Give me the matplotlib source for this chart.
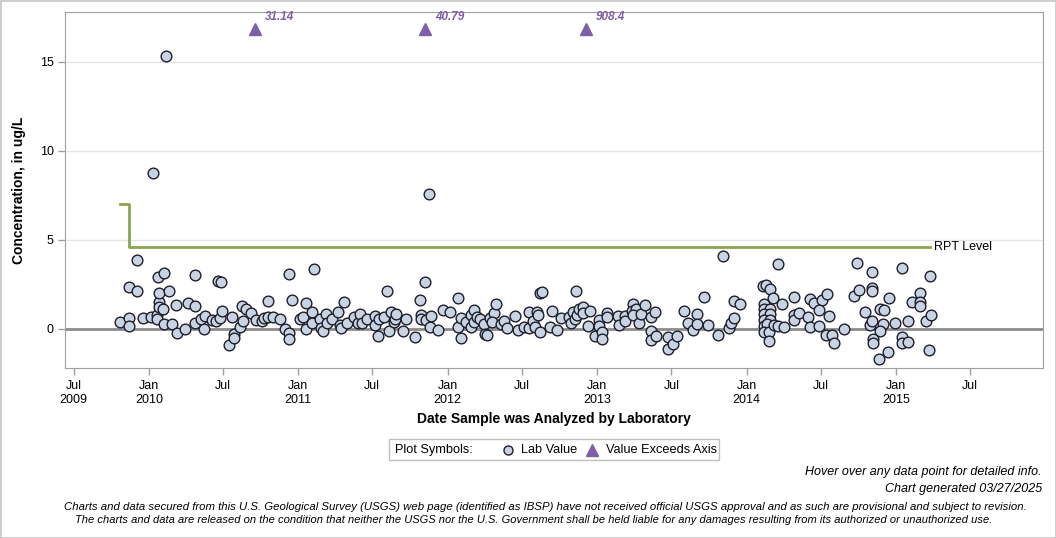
import numpy as np
import pandas as pd
import matplotlib
matplotlib.use("Agg")
import matplotlib.pyplot as plt
from matplotlib.lines import Line2D
from matplotlib.patches import Rectangle

plt.rcParams['font.family'] = ['Liberation Sans', 'DejaVu Sans']

# sample dates as decimal years
sample_year = [
    2009.809, 2009.869, 2009.869, 2009.869, 2009.921, 2009.923, 2009.963, 2010.015, 2010.030, 2010.057,
    2010.057, 2010.060, 2010.066, 2010.066, 2010.070, 2010.097, 2010.100, 2010.104, 2010.117, 2010.137,
    2010.157, 2010.184, 2010.191, 2010.244, 2010.262, 2010.309, 2010.309, 2010.311, 2010.349, 2010.371,
    2010.378, 2010.423, 2010.452, 2010.461, 2010.477, 2010.481, 2010.492, 2010.539, 2010.559, 2010.570,
    2010.570, 2010.610, 2010.624, 2010.633, 2010.651, 2010.684, 2010.718, 2010.758, 2010.771, 2010.800,
    2010.800, 2010.833, 2010.878, 2010.914, 2010.940, 2010.940, 2010.940, 2010.960, 2011.012, 2011.034,
    2011.052, 2011.052, 2011.094, 2011.094, 2011.108, 2011.146, 2011.151, 2011.168, 2011.184, 2011.191,
    2011.228, 2011.268, 2011.280, 2011.286, 2011.309, 2011.325, 2011.375, 2011.398, 2011.414, 2011.425,
    2011.462, 2011.514, 2011.514, 2011.536, 2011.543, 2011.574, 2011.592, 2011.610, 2011.621, 2011.641,
    2011.651, 2011.655, 2011.703, 2011.723, 2011.784, 2011.817, 2011.824, 2011.822, 2011.851, 2011.852,
    2011.875, 2011.879, 2011.891, 2011.938, 2011.971, 2012.016, 2012.072, 2012.072, 2012.090, 2012.091,
    2012.123, 2012.155, 2012.153, 2012.173, 2012.173, 2012.197, 2012.219, 2012.240, 2012.247, 2012.260,
    2012.284, 2012.312, 2012.325, 2012.299, 2012.357, 2012.377, 2012.399, 2012.453, 2012.473, 2012.513,
    2012.541, 2012.546, 2012.571, 2012.585, 2012.600, 2012.602, 2012.615, 2012.618, 2012.630, 2012.681,
    2012.700, 2012.729, 2012.754, 2012.812, 2012.823, 2012.834, 2012.854, 2012.849, 2012.866, 2012.879,
    2012.906, 2012.906, 2012.954, 2012.935, 2012.986, 2013.009, 2013.010, 2013.028, 2013.028, 2013.062,
    2013.063, 2013.138, 2013.144, 2013.183, 2013.183, 2013.236, 2013.231, 2013.256, 2013.236, 2013.278,
    2013.291, 2013.316, 2013.359, 2013.358, 2013.358, 2013.389, 2013.390, 2013.470, 2013.470, 2013.503,
    2013.530, 2013.578, 2013.606, 2013.638, 2013.665, 2013.664, 2013.716, 2013.738, 2013.810, 2013.843,
    2013.878, 2013.893, 2013.912, 2013.912, 2013.952, 2014.109, 2014.129, 2014.153, 2014.211, 2014.178,
    2014.235, 2014.114, 2014.114, 2014.153, 2014.114, 2014.153, 2014.114, 2014.155, 2014.114, 2014.138,
    2014.114, 2014.151, 2014.151, 2014.181, 2014.211, 2014.247, 2014.314, 2014.314, 2014.314, 2014.347,
    2014.407, 2014.426, 2014.449, 2014.426, 2014.487, 2014.501, 2014.486, 2014.539, 2014.554, 2014.531,
    2014.571, 2014.581, 2014.654, 2014.735, 2014.715, 2014.749, 2014.789, 2014.822, 2014.840, 2014.842,
    2014.842, 2014.842, 2014.891, 2014.922, 2014.913, 2014.891, 2014.950, 2014.848, 2014.848, 2014.884,
    2014.944, 2014.996, 2015.041, 2015.042, 2015.042, 2015.077, 2015.077, 2015.108, 2015.157, 2015.157,
    2015.157, 2015.197, 2015.234, 2015.230, 2015.222,
]

# lab values, ug/L
lab_value = [
    0.38, 2.36, 0.63, 0.17, 3.86, 2.13, 0.63, 0.69, 8.75, 0.80,
    0.58, 2.90, 1.50, 1.25, 2.01, 1.12, 0.28, 3.13, 15.32, 2.13,
    0.28, 1.33, -0.24, 0.00, 1.44, 3.03, 1.29, 0.32, 0.54, 0.00,
    0.73, 0.49, 0.43, 2.71, 0.62, 2.64, 1.01, -0.90, 0.66, -0.28,
    -0.52, 0.10, 1.29, 0.43, 1.11, 0.88, 0.49, 0.43, 0.60, 1.57,
    0.66, 0.69, 0.54, 0.00, 3.09, -0.24, -0.56, 1.63, 0.54, 0.69,
    1.44, 0.00, 0.96, 0.32, 3.37, 0.54, 0.07, -0.10, 0.84, 0.35,
    0.56, 0.96, 0.25, 0.04, 1.50, 0.35, 0.69, 0.32, 0.83, 0.35,
    0.56, 0.73, 0.21, -0.39, 0.56, 0.69, 2.13, -0.11, 0.94, 0.39,
    0.56, 0.83, -0.14, 0.54, -0.43, 1.62, 0.80, 0.54, 2.63, 0.51,
    7.57, 0.10, 0.71, -0.07, 1.07, 0.94, 1.72, 0.10, 0.61, -0.51,
    0.38, 0.12, 0.80, 1.07, 0.38, 0.66, 0.54, 0.26, -0.28, -0.34,
    0.61, 0.88, 1.39, 0.38, 0.30, 0.46, 0.06, 0.72, -0.07, 0.13,
    0.06, 0.94, 0.44, 0.11, 0.98, 0.80, -0.18, 2.01, 2.08, 0.11,
    1.01, -0.06, 0.61, 0.66, 0.31, 0.93, 2.13, 0.54, 0.78, 1.13,
    1.21, 0.92, 1.01, 0.17, -0.39, 0.51, 0.15, -0.19, -0.56, 0.92,
    0.66, 0.71, 0.20, 0.71, 0.45, 1.40, 1.01, 1.12, 0.76, 0.34,
    0.83, 1.34, 0.66, -0.11, -0.63, 0.94, -0.40, -0.47, -1.13, -0.86,
    -0.39, 1.02, 0.33, -0.07, 0.83, 0.28, 1.78, 0.21, -0.34, 4.10,
    0.07, 0.34, 0.61, 1.59, 1.39, 2.42, 2.47, 2.23, 3.65, 1.72,
    1.39, 1.42, 1.12, 1.11, 0.84, 0.84, 0.53, 0.53, 0.17, 0.28,
    -0.15, -0.15, -0.65, 0.25, 0.15, 0.10, 1.79, 0.80, 0.52, 0.91,
    0.66, 1.67, 1.46, 0.10, 0.16, 1.64, 1.08, 1.96, 0.73, -0.35,
    -0.35, -0.77, -0.02, 3.70, 1.85, 2.19, 0.96, 0.20, 0.44, 2.29,
    2.15, 3.20, 1.12, 1.08, 0.28, -0.12, 1.73, -0.55, -0.79, -1.70,
    -1.29, 0.34, 3.41, -0.44, -0.79, -0.73, 0.45, 1.51, 2.01, 1.51,
    1.29, 0.45, 0.79, 2.97, -1.20,
]

# values above the axis, shown as triangles at the top
exceed_year = [2010.711, 2011.849, 2012.924]
exceed_value = [31.14, 40.79, 908.4]

# reporting level (step line)
rpt_year = [2009.807, 2009.867, 2015.229]
rpt_value = [7.0, 4.6, 4.6]

x_ticks = ['2009-07-01', '2010-01-01', '2010-07-01', '2011-01-01', '2011-07-01',
           '2012-01-01', '2012-07-01', '2013-01-01', '2013-07-01', '2014-01-01',
           '2014-07-01', '2015-01-01', '2015-07-01']
x_tick_labels = ['Jul\n2009', 'Jan\n2010', 'Jul', 'Jan\n2011', 'Jul', 'Jan\n2012', 'Jul',
                 'Jan\n2013', 'Jul', 'Jan\n2014', 'Jul', 'Jan\n2015', 'Jul']


def to_dates(years):
    out = []
    for y in years:
        yr = int(np.floor(y))
        start = pd.Timestamp(year=yr, month=1, day=1)
        end = pd.Timestamp(year=yr + 1, month=1, day=1)
        out.append(start + (end - start) * (y - yr))
    return out


W, H = 1056, 538
fx = lambda px: px / W
fy = lambda py: 1 - py / H

fig = plt.figure(figsize=(W / 100, H / 100), dpi=100)
ax = fig.add_axes([fx(65), fy(368.3), (1043 - 65) / W, (368.3 - 12.3) / H])

ax.set_ylim(-2.21, 17.79)
ax.set_xlim(pd.Timestamp('2009-06-10'), pd.Timestamp('2015-12-26'))

ax.set_yticks([0, 5, 10, 15])
ax.yaxis.grid(True, color='#e6e6e6', lw=1)
ax.set_axisbelow(True)
ax.axhline(0, color='#8c8c8c', lw=2, zorder=1)

# RPT level
rd = to_dates(rpt_year)
ax.plot(rd, rpt_value, drawstyle='steps-post', color='#8aa64e', lw=2, zorder=2)
ax.text(rd[-1] + pd.Timedelta(days=10), rpt_value[-1], 'RPT Level',
        fontsize=9, va='center', ha='left')

# lab values
ax.plot(to_dates(sample_year), lab_value, 'o', ms=7.7, mfc='#c8d3e3',
        mec='#1e1e2a', mew=1.0, zorder=3, linestyle='none')

# exceedances
ed = to_dates(exceed_year)
ax.plot(ed, [16.85] * len(ed), '^', ms=8.5, color='#7f5fa8', zorder=4, linestyle='none')
for d, v in zip(ed, exceed_value):
    ax.annotate(f'{v:g}', (d, 16.85), xytext=(7, 9), textcoords='offset points',
                fontsize=8.5, fontweight='bold', fontstyle='italic', color='#7f5fa8',
                va='center', ha='left')

ax.set_xticks(pd.to_datetime(x_ticks))
ax.set_xticklabels(x_tick_labels, fontsize=9)
ax.tick_params(axis='both', direction='out', length=5, color='#a0a0a0', width=1, labelsize=9)
ax.tick_params(axis='y', pad=3)
for s in ax.spines.values():
    s.set_color('#a0a0a0')

ax.set_ylabel('Concentration, in ug/L', fontsize=10, fontweight='bold', labelpad=10)
fig.text(fx(554), fy(419), 'Date Sample was Analyzed by Laboratory', fontsize=10,
         fontweight='bold', ha='center', va='center')

# legend box
fig.patches.append(Rectangle((fx(389), fy(460)), (719 - 389) / W, 21 / H,
                             transform=fig.transFigure, fill=False,
                             edgecolor='#c0c0c0', lw=1))
fig.text(fx(395), fy(450), 'Plot Symbols:', fontsize=9.2, va='center', ha='left')
fig.add_artist(Line2D([fx(508)], [fy(450)], transform=fig.transFigure, marker='o',
                      ms=6.5, mfc='#c8d3e3', mec='#1e1e2a', mew=1.0, linestyle='none'))
fig.text(fx(521), fy(450), 'Lab Value', fontsize=9.2, va='center', ha='left')
fig.add_artist(Line2D([fx(592)], [fy(450)], transform=fig.transFigure, marker='^',
                      ms=8, color='#7f5fa8', linestyle='none'))
fig.text(fx(606), fy(450), 'Value Exceeds Axis', fontsize=9.2, va='center', ha='left')

# footer
fig.text(fx(1042), fy(472), 'Hover over any data point for detailed info.',
         fontsize=9.0, fontstyle='italic', ha='right', va='center')
fig.text(fx(1042), fy(489), 'Chart generated 03/27/2025',
         fontsize=9.0, fontstyle='italic', ha='right', va='center')
fig.text(fx(64), fy(507),
         'Charts and data secured from this U.S. Geological Survey (USGS) web page (identified as IBSP) '
         'have not received official USGS approval and as such are provisional and subject to revision.',
         fontsize=8.2, fontstyle='italic', ha='left', va='center')
fig.text(fx(75), fy(520),
         'The charts and data are released on the condition that neither the USGS nor the U.S. Government '
         'shall be held liable for any damages resulting from its authorized or unauthorized use.',
         fontsize=8.0, fontstyle='italic', ha='left', va='center')

# outer frame
fig.patches.append(Rectangle((0, 0), 1, 1, transform=fig.transFigure, fill=False,
                             edgecolor='#cccccc', lw=2))

fig.savefig('out.png', dpi=100)
